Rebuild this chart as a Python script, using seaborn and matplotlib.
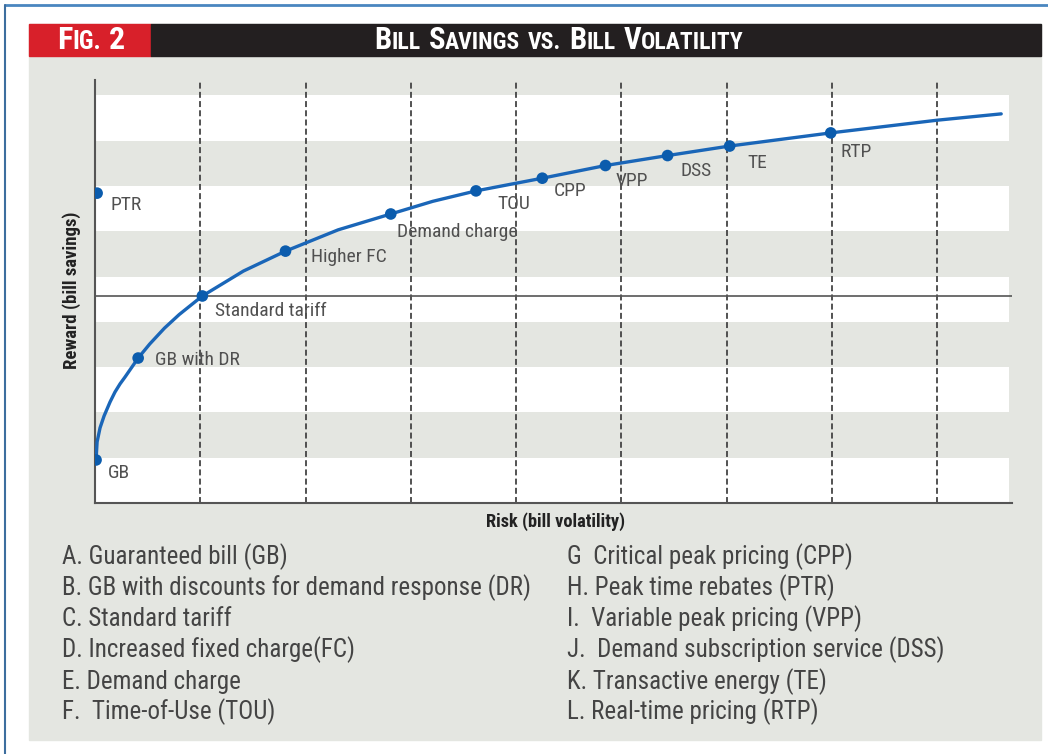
import matplotlib
matplotlib.use("Agg")
import matplotlib.pyplot as plt
import seaborn as sns
from matplotlib.patches import Rectangle
from matplotlib.lines import Line2D

# --- data (x: risk, y: reward, arbitrary units) ---
rate_codes = ["GB", "GB with DR", "Standard tariff", "Higher FC", "Demand charge",
              "TOU", "CPP", "VPP", "DSS", "TE", "RTP", "PTR"]
risk = [0.01, 0.41, 1.02, 1.81, 2.81, 3.62, 4.25, 4.85, 5.44, 6.03, 6.99, 0.02]
reward = [0.95, 3.20, 4.57, 5.56, 6.38, 6.89, 7.17, 7.45, 7.67, 7.88, 8.17, 6.84]

# points
curve_risk = [0.01, 0.02, 0.048, 0.086, 0.143, 0.19, 0.238, 0.285, 0.41, 0.52, 0.66,
              0.80, 1.02, 1.41, 1.81, 2.31, 2.81, 3.21, 3.62, 4.25, 4.85, 5.44, 6.03,
              6.99, 8.00, 8.61]
curve_reward = [0.95, 1.35, 1.66, 1.92, 2.23, 2.45, 2.63, 2.78, 3.20, 3.51, 3.86,
                4.16, 4.57, 5.12, 5.56, 6.03, 6.38, 6.66, 6.89, 7.17, 7.45, 7.67, 7.88,
                8.17, 8.45, 8.59]

standard_level = 4.57
grid_x = [1, 2, 3, 4, 5, 6, 7, 8]

legend_left = ["A. Guaranteed bill (GB)",
               "B. GB with discounts for demand response (DR)",
               "C. Standard tariff",
               "D. Increased fixed charge(FC)",
               "E. Demand charge",
               "F.  Time-of-Use (TOU)"]
legend_right = ["G  Critical peak pricing (CPP)",
                "H. Peak time rebates (PTR)",
                "I.  Variable peak pricing (VPP)",
                "J.  Demand subscription service (DSS)",
                "K. Transactive energy (TE)",
                "L. Real-time pricing (RTP)"]

# label offsets in pixels from each marker
label_offsets = {"GB": (12, -13), "GB with DR": (17, -2), "Standard tariff": (13, -15),
                 "Higher FC": (25, -6), "Demand charge": (6, -18), "TOU": (21, -13),
                 "CPP": (11, -13), "VPP": (10, -15), "DSS": (13, -15), "TE": (18, -17),
                 "RTP": (10, -19), "PTR": (13, -12)}

W, H = 1048, 754
PANEL = "#e4e6e1"
BLUE = "#1a66b8"
NARROW = ["Liberation Sans Narrow", "Roboto Condensed", "DejaVu Sans Condensed",
          "Liberation Sans", "DejaVu Sans"]

sns.set_style("white")
plt.rcParams["font.family"] = NARROW

fig = plt.figure(figsize=(W / 100, H / 100), dpi=100)
fig.patch.set_facecolor("white")


def px_rect(x0, y0, x1, y1, color, z=-2):
    fig.patches.append(Rectangle((x0 / W, 1 - y1 / H), (x1 - x0) / W, (y1 - y0) / H,
                                 transform=fig.transFigure, color=color, zorder=z))


def px_text(x, y, s, **kw):
    return fig.text(x / W, 1 - y / H, s, **kw)


# frame, panel and header bar
fig.lines.append(Line2D([5 / W, 1], [1 - 5 / H, 1 - 5 / H], transform=fig.transFigure,
                        color="#4a86c0", lw=2, zorder=-1))
fig.lines.append(Line2D([5 / W, 5 / W], [0, 1 - 5 / H], transform=fig.transFigure,
                        color="#3d6e9e", lw=1.5, zorder=-1))
px_rect(29, 24, 1041, 740, PANEL, -3)
px_rect(29, 24, 151, 56, "#d8202a")
px_rect(151, 24, 1041, 56, "#231f20")

renderer = fig.canvas.get_renderer()


def small_caps(cx, cy, words, big, small, gap):
    pieces = []
    total = 0
    for wi, word in enumerate(words):
        for s, is_big in word:
            t = px_text(0, cy, s, fontsize=big if is_big else small, color="white",
                        fontweight="bold", va="baseline", ha="left", zorder=3)
            w = t.get_window_extent(renderer).width
            pieces.append((t, total))
            total += w
        if wi < len(words) - 1:
            total += gap
    x0 = cx - total / 2
    for t, off in pieces:
        t.set_x((x0 + off) / W)


small_caps(91, 49, [[("F", True), ("IG.", False)], [("2", True)]], 23, 18, 7)
small_caps(559, 49, [[("B", True), ("ILL", False)], [("S", True), ("AVINGS", False)],
                     [("VS.", False)], [("B", True), ("ILL", False)],
                     [("V", True), ("OLATILITY", False)]], 22, 17, 8)

# plot area
ax = fig.add_axes([95 / W, 1 - 503 / H, 917 / W, 423 / H])
ax.set_zorder(2)
ax.set_facecolor(PANEL)
ax.set_xlim(0, 917 / 105.25)
ax.set_ylim(0, 423 / 45.3)
band_right = 914 / 917
for i in range(0, 9, 2):
    ax.axhspan(i, i + 1, xmax=band_right, color="white", lw=0, zorder=0)
for gx in grid_x:
    ax.axvline(gx, color="#444444", lw=1.3, ls=(0, (3.3, 1.8)), zorder=1)
ax.axhline(standard_level, color="#555555", lw=1.2, zorder=1)

sns.lineplot(x=curve_risk, y=curve_reward, sort=False, estimator=None, color=BLUE,
             lw=2.4, ax=ax, zorder=3)
sns.scatterplot(x=risk, y=reward, s=70, color="#0b5cad", edgecolor="none", ax=ax,
                zorder=4)

for name, rx, ry in zip(rate_codes, risk, reward):
    dx, dy = label_offsets[name]
    ax.annotate(name, (rx, ry), xytext=(dx, dy), textcoords="offset pixels",
                ha="left", va="center", fontsize=14, color="#505050", zorder=5)

for side in ["top", "right"]:
    ax.spines[side].set_visible(False)
for side in ["left", "bottom"]:
    ax.spines[side].set_color("#555555")
    ax.spines[side].set_linewidth(1.5)
ax.set_xticks([])
ax.set_yticks([])
ax.set_xlabel("")
ax.set_ylabel("")

px_text(556, 522, "Risk (bill volatility)", fontsize=13.2, fontweight="bold",
        color="#222222", ha="center", va="center")
px_text(72, 290, "Reward (bill savings)", fontsize=13.5, fontweight="bold",
        color="#222222", ha="center", va="center", rotation=90)

# key
row_y = [557, 588, 619, 650, 682, 712]
for ty, left, right in zip(row_y, legend_left, legend_right):
    px_text(62, ty, left, fontsize=18, color="#444444", ha="left", va="center")
    px_text(567, ty, right, fontsize=18, color="#444444", ha="left", va="center")

fig.savefig("out.png", dpi=100)
